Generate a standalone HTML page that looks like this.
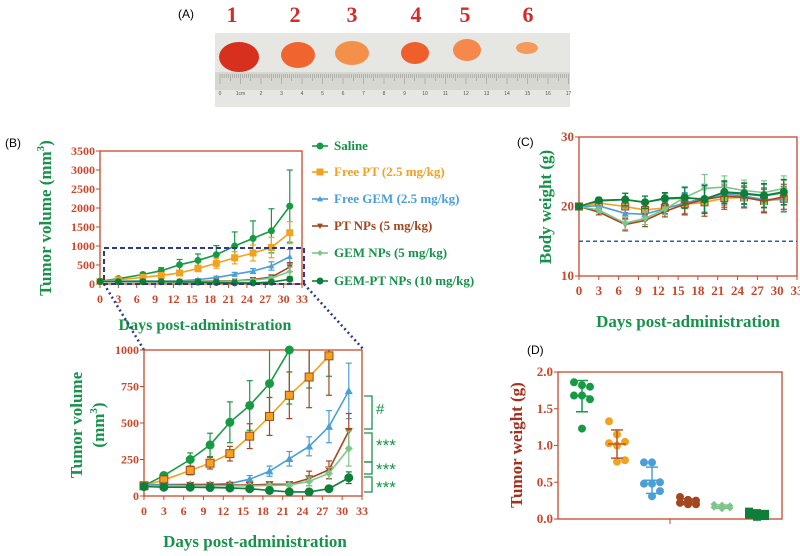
<!DOCTYPE html>
<html><head><meta charset="utf-8"><style>
body{margin:0;background:#fff;width:800px;height:556px;overflow:hidden}
svg{display:block}
text{font-family:"Liberation Serif",serif;font-weight:bold}
</style></head><body>
<svg id="fig" width="800" height="556" viewBox="0 0 800 556" xmlns="http://www.w3.org/2000/svg">
<g id="panelA">
<text x="178" y="18" font-size="12" style="font-family:'Liberation Sans';font-weight:normal">(A)</text>
<rect x="215" y="33" width="355" height="74" fill="#e6e6e3"/>
<rect x="215" y="72" width="355" height="18" fill="#d7d7d2"/>
<ellipse cx="239" cy="57" rx="20" ry="15" fill="#d8301e"/>
<ellipse cx="298" cy="55" rx="17" ry="13" fill="#f0652f"/>
<ellipse cx="352" cy="53" rx="17" ry="12" fill="#f5904a"/>
<ellipse cx="415" cy="53" rx="14" ry="11" fill="#ee5f2c"/>
<ellipse cx="467" cy="50" rx="14" ry="11" fill="#f5884a"/>
<ellipse cx="527" cy="48" rx="11" ry="6" fill="#f59a5a"/>
<text x="232" y="22" fill="#d42a2a" font-size="22" text-anchor="middle">1</text>
<text x="295" y="22" fill="#d42a2a" font-size="22" text-anchor="middle">2</text>
<text x="352" y="22" fill="#d42a2a" font-size="22" text-anchor="middle">3</text>
<text x="416" y="22" fill="#d42a2a" font-size="22" text-anchor="middle">4</text>
<text x="465" y="22" fill="#d42a2a" font-size="22" text-anchor="middle">5</text>
<text x="528" y="22" fill="#d42a2a" font-size="22" text-anchor="middle">6</text>
<g id="ruler"></g>
</g>
</svg>
<script>
const days=[0,3,7,10,13,16,19,22,25,28,31];
const names=["Saline","Free PT (2.5 mg/kg)","Free GEM (2.5 mg/kg)","PT NPs (5 mg/kg)","GEM NPs (5 mg/kg)","GEM-PT NPs (10 mg/kg)"];
const volSaline=[70,140,250,350,505,620,770,1000,1200,1400,2050];
const volPT=[70,110,175,225,290,410,545,690,815,960,1350];
const volGEM=[75,78,80,80,85,115,170,255,340,475,720];
const volPTNP=[70,72,75,75,75,75,80,80,120,180,445];
const volGEMNP=[68,70,70,70,70,70,72,75,100,155,325];
const volGEMPT=[65,60,60,58,55,50,38,28,28,50,125];
const errSaline=[0,15,45,80,140,170,240,370,460,580,950];
const errPT=[0,15,30,40,50,85,130,160,210,270,290];
const errGEM=[0,5,10,10,10,25,35,50,65,110,190];
const errPTNP=[0,5,5,5,5,5,10,10,50,60,120];
const errGEMNP=[0,5,5,5,5,5,5,10,30,40,120];
const errGEMPT=[0,5,5,5,5,5,8,8,8,15,40];
const bwSaline=[20,20.8,21,20.6,21.1,21.2,21.1,22,21.8,21.5,22];
const bwPT=[20,20.5,20,19.5,19.8,20.3,20.6,21.2,21.3,20.8,21.1];
const bwGEM=[20,20.1,19,18.9,19.7,20.5,21.2,21.8,21.5,21,21];
const bwPTNP=[20,19.2,17.4,18,19.3,20.3,21,21.5,21.3,20.8,21.4];
const bwGEMNP=[20,19.5,17.6,18.3,19.6,21.3,22.6,22.8,22.3,22,22.6];
const bwGEMPT=[20,20.9,21,20.6,21.2,21.3,21,22.1,21.9,21.6,22.1];
const bwErr=[0,0.4,0.9,0.9,0.8,1.5,2,1.6,1.5,1.7,1.8];
const twSaline=[1.86,1.82,1.80,1.68,1.68,1.63,1.23];
const twPT=[1.33,1.15,1.05,1.03,1.0,0.8,0.78];
const twGEM=[0.77,0.77,0.5,0.48,0.48,0.38,0.31];
const twPTNP=[0.3,0.26,0.25,0.22,0.22,0.2,0.2];
const twGEMNP=[0.2,0.19,0.18,0.16,0.15,0.15,0.14];
const twGEMPT=[0.1,0.08,0.07,0.06,0.05,0.04,0.03];
const xTicks=[0,3,6,9,12,15,18,21,24,27,30,33];

const colors=["#169a44","#f2a21e","#4a9fd8","#a4461f","#7cc68a","#0e7f3a"];
const shapes=["circle","square","tri","itri","diamond","circle"];
const vols=[volSaline,volPT,volGEM,volPTNP,volGEMNP,volGEMPT];
const errs=[errSaline,errPT,errGEM,errPTNP,errGEMNP,errGEMPT];
const bws=[bwSaline,bwPT,bwGEM,bwPTNP,bwGEMNP,bwGEMPT];
const tws=[twSaline,twPT,twGEM,twPTNP,twGEMNP,twGEMPT];
const AX="#c8472a",GR="#17924a";
const NS="http://www.w3.org/2000/svg";
const svg=document.getElementById('fig');
function el(tag,attrs,parent,txt){const e=document.createElementNS(NS,tag);for(const k in attrs)e.setAttribute(k,attrs[k]);if(txt!==undefined)e.textContent=txt;(parent||svg).appendChild(e);return e;}
function marker(g,shape,x,y,r,c,stroke){
 let e;const st=stroke||c;
 if(shape==="circle")e=el('circle',{cx:x,cy:y,r:r,fill:c,stroke:st},g);
 else if(shape==="square")e=el('rect',{x:x-r,y:y-r,width:2*r,height:2*r,fill:c,stroke:st},g);
 else if(shape==="tri")e=el('polygon',{points:`${x},${y-r} ${x-r},${y+r*0.8} ${x+r},${y+r*0.8}`,fill:c},g);
 else if(shape==="itri")e=el('polygon',{points:`${x},${y+r} ${x-r},${y-r*0.8} ${x+r},${y-r*0.8}`,fill:c},g);
 else e=el('polygon',{points:`${x},${y-r} ${x-r},${y} ${x},${y+r} ${x+r},${y}`,fill:c},g);
 
 
 return e;
}
const rg=document.getElementById('ruler');
for(let i=0;i<=170;i++){const x=220+i*2.05;el('line',{x1:x,y1:74,x2:x,y2:i%10===0?84:(i%5===0?81:78),stroke:"#888","stroke-width":0.5},rg);}
for(let i=0;i<=17;i++){el('text',{x:220+i*20.5,y:95,"font-size":5,fill:"#555","text-anchor":"middle",style:"font-family:'Liberation Sans';font-weight:normal"},rg,i===1?"1cm":String(i));}

function axes(name,L,R,T,B,xmax,ymin,ymax,yt,ytfmt,fs){
 const g=el('g',{});
 
 
 const sx=v=>L+(v/xmax)*(R-L), sy=v=>B-(v-ymin)/(ymax-ymin)*(B-T);
 el('rect',{x:L,y:T,width:R-L,height:B-T,fill:"none",stroke:AX,"stroke-width":1.3},g);
 yt.forEach(v=>{el('line',{x1:L-4,x2:L,y1:sy(v),y2:sy(v),stroke:AX},g);
  const t=el('text',{x:L-5,y:sy(v)+4,"font-size":fs,fill:AX,"text-anchor":"end"},g,ytfmt(v));
  });
 return {g,sx,sy};
}
function xaxis(a,B,fs){xTicks.forEach(v=>{el('line',{x1:a.sx(v),x2:a.sx(v),y1:B,y2:B+4,stroke:AX},a.g);
 const t=el('text',{x:a.sx(v),y:B+19,"font-size":fs,fill:AX,"text-anchor":"middle"},a.g,String(v));
 });}
function series(a,data,err,clipTop,r){
 for(let s=0;s<6;s++){
  const g=el('g',{},a.g);
  
  
  const idx=days.map((d,i)=>i).filter(i=>data[s][i]<=a.ymaxv);
  const pts=idx.map(i=>[a.sx(days[i]),a.sy(data[s][i])]);
  el('polyline',{points:pts.map(p=>p.join(',')).join(' '),fill:"none",stroke:colors[s],"stroke-width":1.6},g);
  days.forEach((d,i)=>{const e=err[s][i];
   if(e>0&&data[s][i]-e<a.ymaxv){const y1=Math.max(clipTop,a.sy(data[s][i]+e)),y2=a.sy(data[s][i]-e),x=a.sx(d);
    el('line',{x1:x,x2:x,y1:y1,y2:y2,stroke:colors[s===1&&r>3?3:s],"stroke-width":1.2},g);
    if(a.sy(data[s][i]+e)>=clipTop)el('line',{x1:x-3,x2:x+3,y1:y1,y2:y1,stroke:colors[s===1&&r>3?3:s],"stroke-width":1.2},g);
    el('line',{x1:x-3,x2:x+3,y1:y2,y2:y2,stroke:colors[s===1&&r>3?3:s],"stroke-width":1.2},g);}});
  idx.forEach((i,k)=>marker(g,shapes[s],pts[k][0],pts[k][1],r,colors[s],s===1&&r>3?"#a4461f":null));
 }
}
el('text',{x:5,y:147,"font-size":12,style:"font-family:'Liberation Sans';font-weight:normal"},svg,"(B)");
const bt=axes('tumor-volume-chart',100,302,151,284,33,0,3500,[0,500,1000,1500,2000,2500,3000,3500],v=>String(v),12);
bt.ymaxv=1e9;xaxis(bt,284,12);
series(bt,vols,errs,151,3);
el('text',{x:0,y:0,"font-size":17,fill:GR,"text-anchor":"middle",transform:"translate(51,218) rotate(-90)"},svg).innerHTML='Tumor volume (mm<tspan dy="-7" font-size="11">3</tspan><tspan dy="7">)</tspan>';
el('text',{x:205,y:330,"font-size":16,fill:GR,"text-anchor":"middle"},svg,"Days post-administration");
el('rect',{x:104,y:248,width:200,height:36,fill:"none",stroke:"#2b3a8f","stroke-width":2,"stroke-dasharray":"5,3"});
el('line',{x1:104,y1:284,x2:144,y2:350,stroke:"#2b3a8f","stroke-width":2.5,"stroke-dasharray":"2,3"});
el('line',{x1:304,y1:284,x2:364,y2:350,stroke:"#2b3a8f","stroke-width":2.5,"stroke-dasharray":"2,3"});
const lg=el('g',{});
const ly=[146,172,199,226,253,281];
names.forEach((n,s)=>{const g=el('g',{},lg);
 
 
 el('line',{x1:312,x2:328,y1:ly[s],y2:ly[s],stroke:colors[s],"stroke-width":1.6},g);
 marker(g,shapes[s],320,ly[s],3,colors[s]);
 el('text',{x:334,y:ly[s]+4,"font-size":13,fill:s===1?"#f2a21e":s===2?"#4a9fd8":s===3?"#a4461f":GR},g,n);});
const bb=axes('tumor-volume-zoom-chart',144,362,350,496,33,0,1000,[0,250,500,750,1000],v=>String(v),12);
bb.ymaxv=1000;xaxis(bb,496,12);
series(bb,vols,errs,350,4);
el('text',{x:0,y:0,"font-size":17,fill:GR,"text-anchor":"middle",transform:"translate(82,425) rotate(-90)"},svg,"Tumor volume");
el('text',{x:0,y:0,"font-size":17,fill:GR,"text-anchor":"middle",transform:"translate(104,425) rotate(-90)"},svg).innerHTML='(mm<tspan dy="-7" font-size="11">3</tspan><tspan dy="7">)</tspan>';
el('text',{x:255,y:547,"font-size":17,fill:GR,"text-anchor":"middle"},svg,"Days post-administration");
[[396,429,"#",414],[433,462,"***",451],[462,474,"***",475],[477,492,"***",493]].forEach(b=>{
 el('polyline',{points:`364,${b[0]} 372,${b[0]} 372,${b[1]} 364,${b[1]}`,fill:"none",stroke:GR,"stroke-width":1.3});
 el('text',{x:376,y:b[3],"font-size":b[2]==="#"?15:17,fill:GR,style:"font-family:'Liberation Sans';font-weight:normal"},svg,b[2]);});
el('text',{x:517,y:146,"font-size":12,style:"font-family:'Liberation Sans';font-weight:normal"},svg,"(C)");
const c=axes('body-weight-chart',579,797,137,276,33,10,30,[10,20,30],v=>String(v),13);
c.ymaxv=1e9;xaxis(c,276,13);
el('line',{x1:579,x2:797,y1:c.sy(15),y2:c.sy(15),stroke:"#2a64a8","stroke-width":1.5,"stroke-dasharray":"4,3"},c.g);
series(c,bws,bws.map(()=>bwErr),137,3.5);
el('text',{x:0,y:0,"font-size":17,fill:GR,"text-anchor":"middle",transform:"translate(551,207) rotate(-90)"},svg,"Body weight (g)");
el('text',{x:688,y:327,"font-size":17,fill:GR,"text-anchor":"middle"},svg,"Days post-administration");
el('text',{x:527,y:354,"font-size":12,style:"font-family:'Liberation Sans';font-weight:normal"},svg,"(D)");
const d=axes('tumor-weight-chart',558,782,372,519,1,0,2,[0,0.5,1,1.5,2],v=>v.toFixed(1),13);
el('line',{x1:670,x2:670,y1:519,y2:524,stroke:AX},d.g);
const gx=[582,617,652,688,722,757];
const off=[-8,0,8,-8,0,8,0];
tws.forEach((arr,s)=>{const g=el('g',{},d.g);
 
 
 const m=arr.reduce((a,b)=>a+b,0)/arr.length;
 const sd=Math.sqrt(arr.reduce((a,b)=>a+(b-m)**2,0)/(arr.length-1));
 arr.forEach((v,i)=>{const sh=s===4?"diamond":(s===5?"square":"circle");marker(g,sh,gx[s]+off[i],d.sy(v),3.5,colors[s]);});
 const c2=s===1?"#b8562a":colors[s];
 el('line',{x1:gx[s],x2:gx[s],y1:d.sy(m+sd),y2:d.sy(m-sd),stroke:c2,"stroke-width":1.5},g);
 el('line',{x1:gx[s]-9,x2:gx[s]+9,y1:d.sy(m),y2:d.sy(m),stroke:c2,"stroke-width":1.5},g);
 el('line',{x1:gx[s]-6,x2:gx[s]+6,y1:d.sy(m+sd),y2:d.sy(m+sd),stroke:c2,"stroke-width":1.5},g);
 el('line',{x1:gx[s]-6,x2:gx[s]+6,y1:d.sy(m-sd),y2:d.sy(m-sd),stroke:c2,"stroke-width":1.5},g);});
el('text',{x:0,y:0,"font-size":17,fill:"#a4301f","text-anchor":"middle",transform:"translate(522,445) rotate(-90)"},svg,"Tumor weight (g)");
</script>
</body></html>
